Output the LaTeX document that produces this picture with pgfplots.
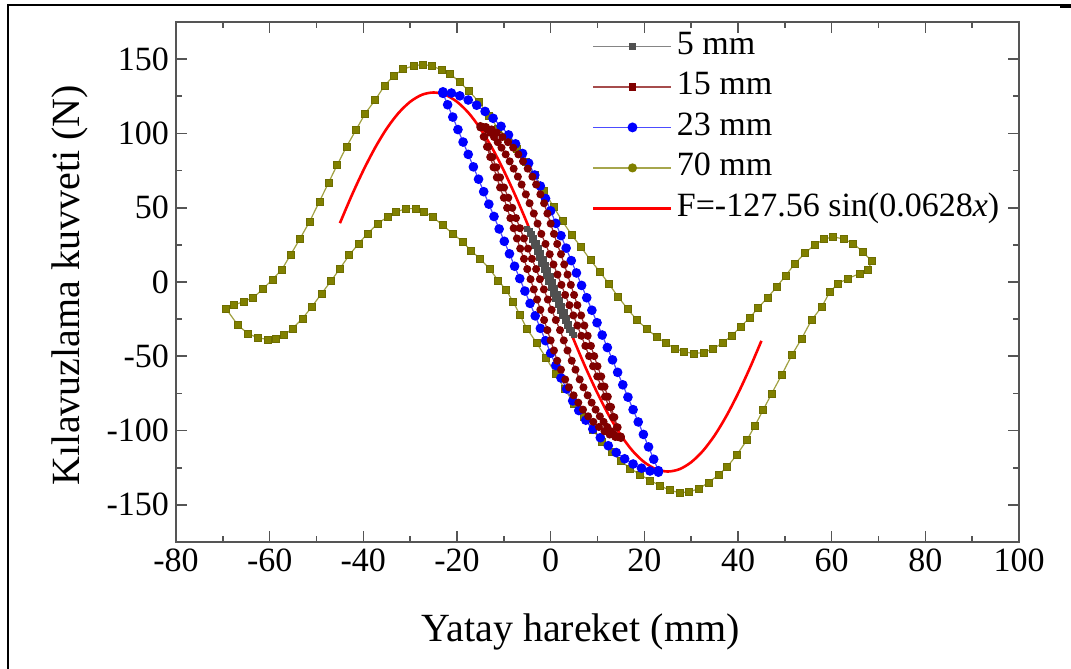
\documentclass[border=0pt]{standalone}
\usepackage{fontspec}
\setmainfont{Liberation Serif}
\usepackage{pgfplots}
\pgfplotsset{compat=1.18}
\definecolor{olivec}{RGB}{128,128,0}
\definecolor{brownc}{RGB}{128,0,0}
\definecolor{grayc}{RGB}{80,80,80}
\definecolor{axisc}{RGB}{85,85,85}
\begin{document}
\begin{tikzpicture}
\useasboundingbox (-88pt,-63.5pt) rectangle (447.5pt,271pt);
\begin{axis}[
  at={(0pt,0pt)}, anchor=south west,
  scale only axis, width=421.5pt, height=260pt,
  xmin=-80, xmax=100, ymin=-175, ymax=175,
  xtick={-80,-60,...,100}, ytick={-150,-100,...,150},
  minor x tick num=1, minor y tick num=1,
  tick align=inside,
  major tick length=5.5pt, minor tick length=3pt,
  axis line style={draw=axisc, line width=1pt},
  tick style={draw=axisc, line width=0.8pt},
  tick label style={font=\fontsize{17}{20}\selectfont},
  /pgf/number format/assume math mode=true,
  xlabel={Yatay hareket (mm)},
  ylabel={Kılavuzlama kuvveti (N)},
  label style={font=\fontsize{20}{24}\selectfont},
  xlabel style={at={(axis description cs:0.48,-0.173)}, anchor=center},
  ylabel style={at={(axis description cs:-0.1257,0.494)}, anchor=center},
  legend style={at={(axis description cs:0.486,1.0)}, anchor=north west, draw=none, fill=none,
    font=\fontsize{17}{20}\selectfont, row sep=0.25pt,
    nodes={inner sep=2pt, text height=12pt, text depth=4pt}},
  legend cell align=left,
  legend image code/.code={\draw[mark repeat=2,mark phase=2,#1] plot coordinates {(0pt,0pt) (19.5pt,0pt) (39pt,0pt)};},
]
\addlegendimage{grayc!70, line width=0.9pt, mark=square*, mark size=1.2pt, mark options={fill=grayc, draw=grayc}}
\addlegendentry{5 mm}
\addlegendimage{brownc!70, line width=0.9pt, mark=square*, mark size=1.5pt, mark options={fill=brownc, draw=brownc}}
\addlegendentry{15 mm}
\addlegendimage{blue!70, line width=0.9pt, mark=*, mark size=2pt, mark options={fill=blue, draw=blue}}
\addlegendentry{23 mm}
\addlegendimage{olivec!70, line width=0.9pt, mark=*, mark size=1.8pt, mark options={fill=olivec, draw=olivec}}
\addlegendentry{70 mm}
\addlegendimage{red, line width=1.4pt}
\addlegendentry{F=-127.56 sin(0.0628\textit{x})}

% 70 mm
\addplot[forget plot, olivec!75, line width=0.6pt, mark=square*, mark size=1.75pt, mark options={fill=olivec, draw=olivec!85!black, line width=0.3pt}] coordinates {
(-69.3,-18)(-67.6,-15.6)(-65.5,-13)(-63.5,-10.6)(-61.4,-4.5)(-59.4,1.7)(-57.4,8.4)(-55.5,18.5)(-53.5,29.3)(-51.5,40.5)(-49.4,54)(-47.4,67)(-45.6,78.7)(-43.6,91)(-41.6,102.2)(-39.6,113.4)(-37.5,122.4)(-35.5,132)(-33.6,138.6)(-31.5,143.3)(-29.3,145.5)(-27.3,146.4)(-25.3,145.5)(-23.3,142.6)(-21.5,140.3)(-19.5,134.7)(-17.4,128.5)(-15.3,121)(-13.2,112)(-11.2,103.3)(-9.2,97)(-7.3,89.8)(-5.3,81)(-3.4,71.9)(-1.4,61.5)(0.6,50.6)(2.5,41)(4.5,31.6)(6.5,23.5)(8.5,14.7)(10.5,6.9)(12.5,-1.5)(14.4,-10)(16.4,-18)(18.4,-25.6)(20.5,-31.5)(22.6,-36.9)(24.5,-41)(26.5,-44.7)(28.5,-47)(30.5,-48.1)(32.6,-47.5)(34.7,-45)(36.7,-41)(38.7,-36)(40.6,-30)(42.5,-24)(44.3,-17.5)(46.3,-10.5)(48.3,-3.2)(50.2,4.5)(52.2,12.5)(54.3,19.5)(56.4,25)(58.3,28.8)(60.3,30.4)(62.5,29)(64.6,25.9)(66.6,20.5)(68.5,14.1)(67.8,8)(66,5.7)(63.5,2.4)(61.4,-1)(59.6,-6.6)(57.9,-16.7)(55.7,-25.6)(53.6,-38)(51.5,-49.2)(49.3,-62.7)(47.2,-75)(45.4,-86)(43.6,-96.8)(41.9,-106.4)(39.8,-116.1)(37.7,-124.4)(35.8,-130)(33.7,-135)(31.7,-139)(29.6,-141.3)(27.5,-141.8)(25.4,-140.2)(23.3,-137)(21.2,-133.5)(19.1,-129.7)(17,-125.5)(15,-120.5)(13,-114.5)(11,-107.5)(9,-99.5)(7,-91)(5,-82)(3,-72)(1,-61.5)(-1,-51)(-3,-41)(-5.1,-31.3)(-6.6,-22)(-8,-13.3)(-9.6,-5)(-11.2,1)(-13.1,9)(-15.1,15.8)(-17,21)(-18.8,27.1)(-20.9,32.6)(-23.1,38.3)(-25.2,43.9)(-27,47.2)(-28.9,49.4)(-30.9,49.4)(-33,47.2)(-34.8,43.9)(-36.9,39.4)(-39.1,32.6)(-41,25.9)(-43,18.1)(-45,9.1)(-46.9,0.6)(-48.9,-7.7)(-51,-16.7)(-53,-24.6)(-55.1,-31.3)(-56.9,-35.7)(-58.7,-38)(-60.4,-38.7)(-62.6,-37.5)(-64.7,-34.6)(-66.8,-29)(-69.3,-18)
};
% 23 mm
\addplot[forget plot, blue!70, line width=0.6pt, mark=*, mark size=2.1pt, mark options={fill=blue, draw=blue}] coordinates {
(-23,128)(-21.2,127.2)(-19.4,125.3)(-17.6,122.5)(-15.8,119)(-14,114.8)(-12.3,110.2)(-10.6,104.8)(-9,99)(-7.5,93)(-6,86.5)(-4.7,80)(-3.4,72)(-2.2,64.6)(-1.1,56.2)(0,47.9)(1.1,39.5)(2.2,31.2)(3.3,22.8)(4.4,14.4)(5.5,6.1)(6.6,-2.3)(7.7,-10.6)(8.8,-19)(9.9,-27.4)(11,-35.7)(12.1,-44.1)(13.2,-52.4)(14.3,-60.8)(15.4,-69.2)(16.5,-77.5)(17.6,-85.9)(18.7,-94.2)(19.8,-102.6)(20.9,-111)(22,-119.3)(23,-127)
(23,-128)(21.2,-127.2)(19.4,-125.3)(17.6,-122.5)(15.8,-119)(14,-114.8)(12.3,-110.2)(10.6,-104.8)(9,-99)(7.5,-93)(6,-86.5)(4.7,-80)(3.4,-72)(2.2,-64.6)(1.1,-56.2)(0,-47.9)(-1.1,-39.5)(-2.2,-31.2)(-3.3,-22.8)(-4.4,-14.4)(-5.5,-6.1)(-6.6,2.3)(-7.7,10.6)(-8.8,19)(-9.9,27.4)(-11,35.7)(-12.1,44.1)(-13.2,52.4)(-14.3,60.8)(-15.4,69.2)(-16.5,77.5)(-17.6,85.9)(-18.7,94.2)(-19.8,102.6)(-20.9,111)(-22,119.3)(-23,127)
};
% 5 mm
\addplot[forget plot, grayc!80, line width=0.6pt, mark=square*, mark size=1.2pt, mark options={fill=grayc, draw=grayc}] coordinates {
(-5,36)(-4.5,34.5)(-4,32)(-3.5,29.5)(-3,26.5)(-2.5,23)(-2,19.5)(-1.5,15.5)(-1,11.5)(-0.5,7.8)(0,4)(0.5,0)(1,-4)(1.5,-8)(2,-12)(2.5,-16)(3,-20)(3.5,-24)(4,-28)(4.5,-32)(5,-36)
(4.5,-34.5)(4,-32)(3.5,-29.5)(3,-26.5)(2.5,-23)(2,-19.5)(1.5,-15.5)(1,-11.5)(0.5,-7.8)(0,-4)(-0.5,0)(-1,4)(-1.5,8)(-2,12)(-2.5,16)(-3,20)(-3.5,24)(-4,28)(-4.5,32)(-5,36)
};
% 15 mm
\addplot[forget plot, brownc!80, line width=0.6pt, mark=*, mark size=1.7pt, mark options={fill=brownc, draw=brownc}] coordinates {
(-15,105)(-13.8,104.3)(-12.6,102.7)(-11.5,100.5)(-10.3,97.6)(-9.1,94.1)(-8,90.4)(-6.9,85.9)(-5.9,81.2)(-4.9,76.3)(-3.9,70.9)(-3.1,65.6)(-2.2,59)(-1.4,53)(-0.7,46.1)(0,39.3)(0.7,32.4)(1.4,25.6)(2.2,18.7)(2.9,11.8)(3.6,5)(4.3,-1.9)(5,-8.7)(5.7,-15.6)(6.5,-22.5)(7.2,-29.3)(7.9,-36.2)(8.6,-43)(9.3,-49.9)(10,-56.7)(10.8,-63.6)(11.5,-70.4)(12.2,-77.2)(12.9,-84.1)(13.6,-91)(14.3,-97.8)(15,-104.1)
(15,-105)(13.8,-104.3)(12.6,-102.7)(11.5,-100.5)(10.3,-97.6)(9.1,-94.1)(8,-90.4)(6.9,-85.9)(5.9,-81.2)(4.9,-76.3)(3.9,-70.9)(3.1,-65.6)(2.2,-59)(1.4,-53)(0.7,-46.1)(0,-39.3)(-0.7,-32.4)(-1.4,-25.6)(-2.2,-18.7)(-2.9,-11.8)(-3.6,-5)(-4.3,1.9)(-5,8.7)(-5.7,15.6)(-6.5,22.5)(-7.2,29.3)(-7.9,36.2)(-8.6,43)(-9.3,49.9)(-10,56.7)(-10.8,63.6)(-11.5,70.4)(-12.2,77.2)(-12.9,84.1)(-13.6,91)(-14.3,97.8)(-15,104.1)
(-14.35,104.3)(-13.6,102.7)(-12.9,100.5)(-12.1,97.6)(-11.3,94.1)(-10.5,90.4)(-9.6,85.9)(-8.75,81.2)(-7.9,76.3)(-7,70.9)(-6.2,65.6)(-5.3,59)(-4.5,53)(-3.6,46.1)(-2.8,39.3)(-2,32.4)(-1.1,25.6)(-0.2,18.7)(0.6,11.8)(1.45,5)(2.3,-1.9)(3.1,-8.7)(4,-15.6)(4.85,-22.5)(5.7,-29.3)(6.55,-36.2)(7.4,-43)(8.2,-49.9)(9.05,-56.7)(9.95,-63.6)(10.8,-70.4)(11.6,-77.2)(12.45,-84.1)(13.3,-91)(14.15,-97.8)(14.95,-104.1)
(14.35,-104.3)(13.6,-102.7)(12.9,-100.5)(12.1,-97.6)(11.3,-94.1)(10.5,-90.4)(9.6,-85.9)(8.75,-81.2)(7.9,-76.3)(7,-70.9)(6.2,-65.6)(5.3,-59)(4.5,-53)(3.6,-46.1)(2.8,-39.3)(2,-32.4)(1.1,-25.6)(0.2,-18.7)(-0.6,-11.8)(-1.45,-5)(-2.3,1.9)(-3.1,8.7)(-4,15.6)(-4.85,22.5)(-5.7,29.3)(-6.55,36.2)(-7.4,43)(-8.2,49.9)(-9.05,56.7)(-9.95,63.6)(-10.8,70.4)(-11.6,77.2)(-12.45,84.1)(-13.3,91)(-14.15,97.8)(-14.95,104.1)
};
% fit
\addplot[forget plot, red, line width=1.3pt, smooth] coordinates {
(-45,39.6)(-42.5,58.1)(-40,75.1)(-37.5,90.3)(-35,103.3)(-32.5,113.7)(-30,121.3)(-27.5,126)(-25,127.56)(-22.5,126)(-20,121.3)(-17.5,113.7)(-15,103.2)(-12.5,90.2)(-10,74.9)(-7.5,57.9)(-5,39.4)(-2.5,19.9)(0,0)(2.5,-19.9)(5,-39.4)(7.5,-57.9)(10,-74.9)(12.5,-90.2)(15,-103.2)(17.5,-113.7)(20,-121.3)(22.5,-126)(25,-127.56)(27.5,-126)(30,-121.3)(32.5,-113.7)(35,-103.3)(37.5,-90.3)(40,-75.1)(42.5,-58.1)(45,-39.6)
};
\end{axis}
\draw[line width=1pt] (-84pt,-63.5pt) -- (-84pt,268.5pt) -- (443pt,268.5pt);
\draw[line width=2pt] (442pt,268pt) -- (447.5pt,268pt);
\end{tikzpicture}
\end{document}
